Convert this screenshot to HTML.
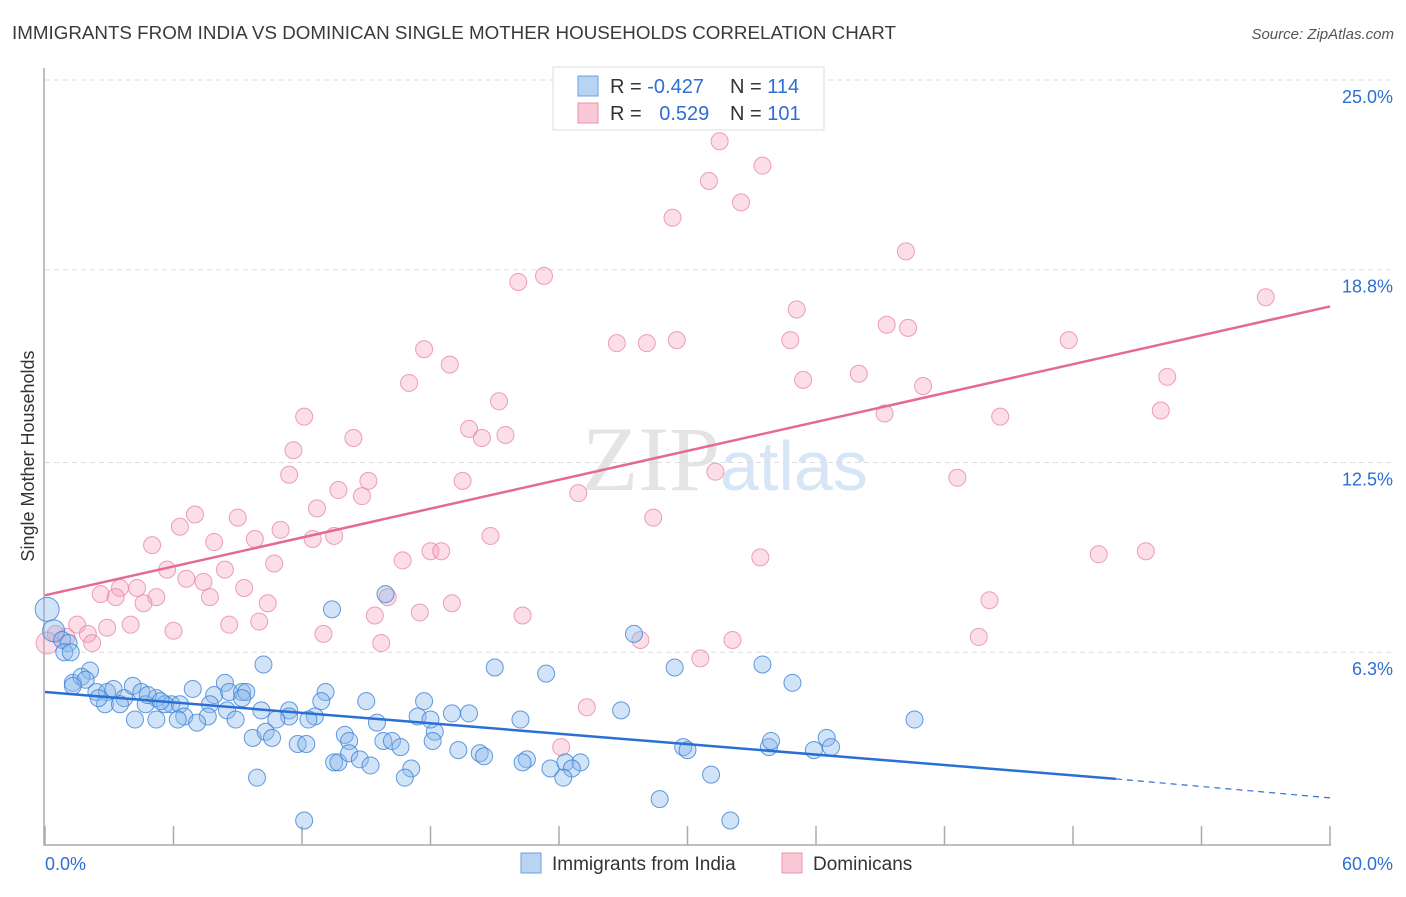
<!DOCTYPE html>
<html><head><meta charset="utf-8"><style>
body{margin:0;background:#fff;font-family:"Liberation Sans",sans-serif;}
</style></head><body>
<svg width="1406" height="892" xmlns="http://www.w3.org/2000/svg">
<text x="12" y="39" font-size="18" fill="#3a3a3a" textLength="884" lengthAdjust="spacingAndGlyphs">IMMIGRANTS FROM INDIA VS DOMINICAN SINGLE MOTHER HOUSEHOLDS CORRELATION CHART</text>
<text x="1394" y="39" font-size="15" fill="#555" text-anchor="end" font-style="italic">Source: ZipAtlas.com</text>
<text x="720" y="490" font-size="92" fill="#e4e4e4" text-anchor="end" font-family="Liberation Serif">ZIP</text>
<text x="720" y="490" font-size="70" fill="#d6e6f7">atlas</text>
<g id="grid"></g>
<g id="axes"></g>
<g id="pts"></g>
<g id="trend"></g>
<text x="34" y="456" font-size="18" fill="#333" text-anchor="middle" transform="rotate(-90 34 456)">Single Mother Households</text>
<g>
<rect x="553" y="67" width="271" height="63" fill="#fff" stroke="#ddd"/>
<rect x="578" y="76" width="20" height="20" fill="#b9d3f3" stroke="#6a9fe0"/>
<rect x="578" y="103" width="20" height="20" fill="#f9c8d6" stroke="#ee90aa"/>
<text x="610" y="93" font-size="20" fill="#333">R = <tspan fill="#2d6fd2">-0.427</tspan></text>
<text x="730" y="93" font-size="20" fill="#333">N = <tspan fill="#2d6fd2">114</tspan></text>
<text x="610" y="120" font-size="20" fill="#333">R = <tspan fill="#2d6fd2" dx="12">0.529</tspan></text>
<text x="730" y="120" font-size="20" fill="#333">N = <tspan fill="#2d6fd2">101</tspan></text>
</g>
<g>
<rect x="521" y="853" width="20" height="20" fill="#b9d3f3" stroke="#6a9fe0"/>
<text x="552" y="870" font-size="19" fill="#333">Immigrants from India</text>
<rect x="782" y="853" width="20" height="20" fill="#f9c8d6" stroke="#ee90aa"/>
<text x="813" y="870" font-size="19" fill="#333">Dominicans</text>
</g>
</svg>
<script>
const yTicks=[25,18.8,12.5,6.3];
const yTickLabels=["25.0%","18.8%","12.5%","6.3%"];
const xTicks=[0,6,12,18,24,30,36,42,48,54,60];
const xLabels=["0.0%","60.0%"];
const indiaX=[0.1,13.4,15.9,27.5,0.4,0.8,1.1,0.9,2.1,10.2,21.0,23.4,29.4,33.5,1.3,1.7,1.9,2.4,2.9,3.2,3.7,4.1,4.5,5.2,5.9,6.9,7.9,8.4,8.6,9.2,9.4,9.2,2.8,3.5,4.7,5.6,6.3,7.7,8.5,10.1,11.4,13.1,12.9,15.0,17.7,34.9,40.6,26.9,19.8,19.0,17.4,15.5,11.4,10.8,12.6,8.9,7.6,6.5,6.2,4.2,5.2,7.1,22.2,12.3,9.7,10.3,10.6,11.8,14.0,15.8,16.2,14.2,18.2,18.1,16.6,19.3,20.3,20.5,22.5,22.3,13.5,13.7,14.2,14.7,15.2,17.1,16.8,23.6,24.3,25.0,24.6,24.2,9.9,29.8,30.0,33.8,33.9,35.9,36.5,36.7,31.1,28.7,12.1,32.0,1.2,1.3,2.5,4.8,5.4,18.0,12.2];
const indiaY=[7.7,7.7,8.2,6.9,7.0,6.7,6.6,6.3,5.7,5.9,5.8,5.6,5.8,5.9,5.3,5.5,5.4,5.0,5.0,5.1,4.8,5.2,5.0,4.8,4.6,5.1,4.9,5.3,5.0,5.0,5.0,4.8,4.6,4.6,4.6,4.6,4.6,4.6,4.4,4.4,4.4,5.0,4.7,4.7,4.7,5.3,4.1,4.4,4.3,4.3,4.2,4.0,4.2,4.1,4.2,4.1,4.2,4.2,4.1,4.1,4.1,4.0,4.1,4.1,3.5,3.7,3.5,3.3,3.6,3.4,3.4,3.4,3.7,3.4,3.2,3.1,3.0,2.9,2.8,2.7,2.7,2.7,3.0,2.8,2.6,2.5,2.2,2.5,2.7,2.7,2.5,2.2,2.2,3.2,3.1,3.2,3.4,3.1,3.5,3.2,2.3,1.5,0.8,0.8,6.3,5.2,4.8,4.9,4.7,4.1,3.3];
const domX=[31.5,33.5,31.0,32.5,29.3,40.2,23.3,22.1,57.0,35.1,39.3,40.3,47.8,29.5,26.7,28.1,34.8,17.7,18.9,17.0,35.4,38.0,52.4,41.0,21.2,12.1,39.2,44.6,52.1,19.8,21.5,14.4,20.4,11.6,31.3,11.4,19.5,15.1,42.6,13.7,14.8,24.9,12.7,7.0,9.0,28.4,6.3,11.0,20.8,5.0,7.9,9.8,12.5,13.5,18.0,18.5,16.7,49.2,51.4,33.4,5.7,10.7,8.4,6.6,7.4,3.5,2.6,4.3,9.3,5.2,7.7,16.0,3.3,4.6,19.0,44.1,10.4,22.3,15.4,17.5,4.0,8.6,1.5,2.9,6.0,10.0,13.0,43.6,32.1,27.8,2.0,0.5,1.0,15.7,2.2,30.6,25.3,24.1,0.1];
const domY=[23.0,22.2,21.7,21.0,20.5,19.4,18.6,18.4,17.9,17.5,17.0,16.9,16.5,16.5,16.4,16.4,16.5,16.2,15.7,15.1,15.2,15.4,15.3,15.0,14.5,14.0,14.1,14.0,14.2,13.6,13.4,13.3,13.3,12.9,12.2,12.1,11.9,11.9,12.0,11.6,11.4,11.5,11.0,10.8,10.7,10.7,10.4,10.3,10.1,9.8,9.9,10.0,10.0,10.1,9.6,9.6,9.3,9.5,9.6,9.4,9.0,9.2,9.0,8.7,8.6,8.4,8.2,8.4,8.4,8.1,8.1,8.1,8.1,7.9,7.9,8.0,7.9,7.5,7.5,7.6,7.2,7.2,7.2,7.1,7.0,7.3,6.9,6.8,6.7,6.7,6.9,6.9,6.8,6.6,6.6,6.1,4.5,3.2,6.6];
const indiaTrend=[5.0,2.16,1.54]; // y at x=0, x=50, x=60
const domTrend=[8.16,17.6]; // y at x=0, x=60
const NS="http://www.w3.org/2000/svg";
const X0=45,X1=1330,Y0=845,Y25=80;
const sx=v=>X0+(X1-X0)*v/60, sy=v=>Y0-(Y0-Y25)*v/25;
function mk(tag,attrs,parent){const e=document.createElementNS(NS,tag);for(const k in attrs)e.setAttribute(k,attrs[k]);document.getElementById(parent).appendChild(e);return e;}
yTicks.forEach((t,i)=>{
 const l=mk('line',{x1:X0,x2:1395,y1:sy(t),y2:sy(t),stroke:'#ddd','stroke-dasharray':'5,4'},'grid');
 
 
 const tx=mk('text',{x:1393,y:sy(t)+23,'font-size':18,fill:'#2d6fd2','text-anchor':'end'},'grid');
 tx.textContent=yTickLabels[i];
 
 
});
const ax=mk('path',{d:`M${X0-1} 68 V${Y0} H${X1+1}`,fill:'none',stroke:'#aaa','stroke-width':1.5},'axes');


xTicks.forEach(t=>{
 const l=mk('line',{x1:sx(t),x2:sx(t),y1:Y0-19,y2:Y0,stroke:'#aaa','stroke-width':1.5},'axes');
 
 
});
[[0,'start',45],[60,'end',1393]].forEach((d,i)=>{
 const tx=mk('text',{x:d[2],y:870,'font-size':18,fill:'#2d6fd2','text-anchor':d[1]},'axes');
 tx.textContent=xLabels[i];
 
 
});
domX.forEach((x,i)=>{
 const c=mk('circle',{cx:sx(x),cy:sy(domY[i]),r:i==domX.length-1?11:8.5,fill:'rgba(244,160,185,0.35)',stroke:'rgba(232,130,160,0.75)','stroke-width':1},'pts');
 
 
});
indiaX.forEach((x,i)=>{
 const c=mk('circle',{cx:sx(x),cy:sy(indiaY[i]),r:i==0?12:(i==4?11:8.5),fill:'rgba(140,185,235,0.4)',stroke:'rgba(60,130,215,0.8)','stroke-width':1},'pts');
 
 
});
const bt=mk('line',{x1:sx(0),y1:sy(indiaTrend[0]),x2:sx(50),y2:sy(indiaTrend[1]),stroke:'#2a6fd6','stroke-width':2.5},'trend');


const bd=mk('line',{x1:sx(50),y1:sy(indiaTrend[1]),x2:sx(60),y2:sy(indiaTrend[2]),stroke:'#2a6fd6','stroke-width':1.2,'stroke-dasharray':'6,5'},'trend');


const pt=mk('line',{x1:sx(0),y1:sy(domTrend[0]),x2:sx(60),y2:sy(domTrend[1]),stroke:'#e46a93','stroke-width':2.5},'trend');


</script>
</body></html>
